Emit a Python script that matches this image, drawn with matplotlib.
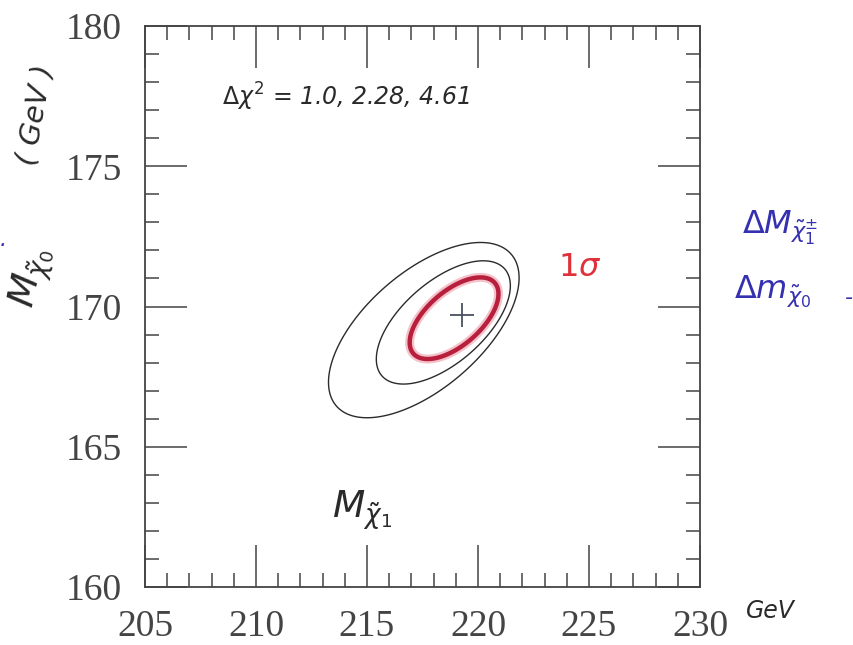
import numpy as np
import matplotlib
matplotlib.use("Agg")
import matplotlib.pyplot as plt
from matplotlib.ticker import MultipleLocator

# fit result: best-fit masses (GeV) and the delta-chi2 contour levels
best_mchi1 = 219.3
best_mchi0 = 169.7
dchi2_levels = [1.0, 2.28, 4.61]

# shape of the chi2 valley: direction of the valley, widths (GeV), and
# how far the contours drift towards low masses as delta-chi2 grows
valley_slope = 1.10
cross_slope = 0.688
cross_scale = 1.264
width_along = 3.22
width_across = 1.275
drift_along = 0.507
drift_across = 0.18

x_ticks = [205, 210, 215, 220, 225, 230]
y_ticks = [160, 165, 170, 175, 180]


def delta_chi2(mx, my):
    # each contour is an ellipse whose centre drifts with delta-chi2 = t:
    # ((u + da*t)/a)^2 + ((v - dc*t)/b)^2 = t, solved for t
    dx = mx - best_mchi1
    dy = my - best_mchi0
    u = dx + valley_slope * dy
    v = (dy - cross_slope * dx) * cross_scale
    a = width_along
    b = width_across * cross_scale
    da, dc = drift_along, drift_across
    qa = da ** 2 / a ** 2 + dc ** 2 / b ** 2
    qb = 2 * u * da / a ** 2 - 2 * v * dc / b ** 2 - 1
    qc = u ** 2 / a ** 2 + v ** 2 / b ** 2
    disc = qb ** 2 - 4 * qa * qc
    t = (-qb - np.sqrt(np.clip(disc, 0, None))) / (2 * qa)
    return np.where(disc > 0, t, 1e3)


fig = plt.figure(figsize=(8.54, 6.45), dpi=100)
ax = fig.add_axes([145 / 854, 1 - 587 / 645, 555 / 854, 561 / 645])

gx = np.linspace(x_ticks[0], x_ticks[-1], 800)
gy = np.linspace(y_ticks[0], y_ticks[-1], 800)
GX, GY = np.meshgrid(gx, gy)
Z = delta_chi2(GX, GY)

ax.contour(GX, GY, Z, levels=dchi2_levels, colors="#2b2b2b", linewidths=1.0)
# 1 sigma contour marked in red
ax.contour(GX, GY, Z, levels=dchi2_levels[:1], colors="#e8788a",
           linewidths=6.5, alpha=0.45)
ax.contour(GX, GY, Z, levels=dchi2_levels[:1], colors="#b81f3c",
           linewidths=3.2)
ax.plot([best_mchi1], [best_mchi0], marker="+", markersize=17,
        mew=1.3, color="#4a5060")

ax.set_xlim(x_ticks[0], x_ticks[-1])
ax.set_ylim(y_ticks[0], y_ticks[-1])
ax.set_xticks(x_ticks)
ax.set_yticks(y_ticks)
ax.xaxis.set_minor_locator(MultipleLocator(1))
ax.yaxis.set_minor_locator(MultipleLocator(1))
ax.tick_params(which="both", direction="in", top=True, right=True,
               color="#444444", width=1.1)
ax.tick_params(which="major", length=30, pad=16.5, labelsize=27,
               labelcolor="#444444")
ax.tick_params(which="minor", length=10)
for lab in ax.get_xticklabels() + ax.get_yticklabels():
    lab.set_fontfamily("Liberation Serif")
for sp in ax.spines.values():
    sp.set_color("#444444")
    sp.set_linewidth(1.3)

# hand-written notes
hand = dict(style="italic", color="#2a2a2a")
fig.text(346 / 854, 1 - 97 / 645,
         r"$\Delta\chi^2$ = 1.0, 2.28, 4.61", fontsize=17,
         ha="center", va="center", **hand)
fig.text(362 / 854, 1 - 510 / 645, r"$M_{\tilde{\chi}_1}$", fontsize=27,
         ha="center", va="center", **hand)
fig.text(32 / 854, 1 - 278 / 645, r"$M_{\tilde{\chi}_0}$", fontsize=27,
         rotation=78, ha="center", va="center", **hand)
fig.text(35 / 854, 1 - 115 / 645, "( GeV )", fontsize=21,
         rotation=80, ha="center", va="center", **hand)
fig.text(770 / 854, 1 - 611 / 645, "GeV", fontsize=17,
         ha="center", va="center", **hand)
fig.text(580 / 854, 1 - 268 / 645, r"$1\sigma$", fontsize=23,
         ha="center", va="center", style="italic", color="#e0303a")
blue = dict(style="italic", color="#3530b0", ha="center", va="center")
fig.text(780 / 854, 1 - 228 / 645, r"$\Delta M_{\tilde{\chi}_1^{\pm}}$",
         fontsize=23, **blue)
fig.text(773 / 854, 1 - 291 / 645, r"$\Delta m_{\tilde{\chi}_0}$",
         fontsize=23, **blue)
fig.text(849 / 854, 1 - 298 / 645, "-", fontsize=16, **blue)
fig.text(3 / 854, 1 - 240 / 645, ".", fontsize=16, **blue)

fig.savefig("out.png", dpi=100, facecolor="white")
